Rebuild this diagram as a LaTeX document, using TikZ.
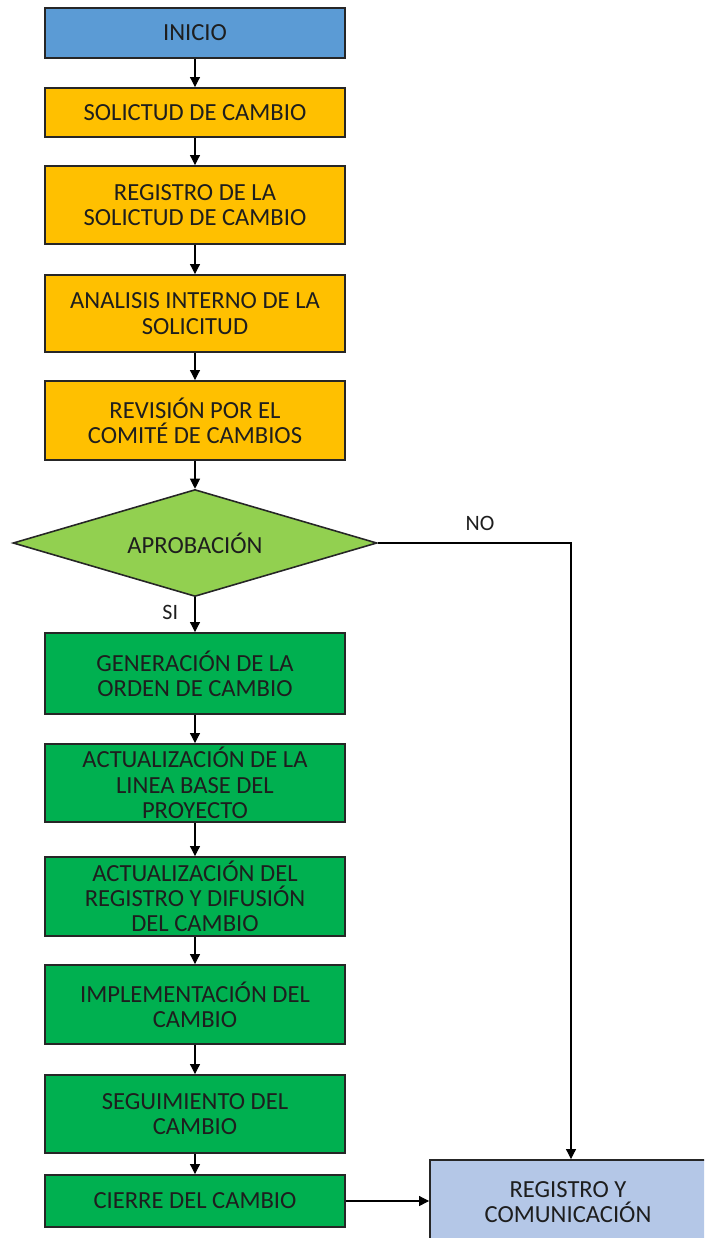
\documentclass[tikz,border=0pt]{standalone}
\usepackage{fontspec}
\setmainfont{Carlito}
\definecolor{FCblue}{HTML}{5B9BD5}
\definecolor{FCorange}{HTML}{FFC000}
\definecolor{FClime}{HTML}{92D050}
\definecolor{FCgreen}{HTML}{00B050}
\definecolor{FCpale}{HTML}{B4C7E7}
\definecolor{FCtext}{HTML}{1E1E1E}
\usetikzlibrary{arrows.meta, shapes.geometric, positioning}

\tikzset{
   box/.style={draw=black!85, line width=1.1pt, rectangle, minimum width=6cm, inner sep=0pt,
      align=center, text=FCtext, font=\fontsize{14}{14.4}\selectfont},
   flow/.style={-{Triangle[length=0.2cm, width=0.2cm]}, black, line width=0.6pt},
   lbl/.style={text=FCtext, font=\fontsize{12.5}{14}\selectfont}
}

\begin{document}
\begin{tikzpicture}[x=0.02cm, y=-0.02cm]
            \clip (0,0) rectangle (704,1238);
            % Top part
            \node[box, fill=FCblue, minimum height=1cm] (inicio) at (195,33) {INICIO};
            \node[box, fill=FCorange, minimum height=0.98cm] (solicitud) at (195,112.5) {SOLICTUD DE CAMBIO};
            \node[box, fill=FCorange, minimum height=1.56cm] (registro) at (195,205) {REGISTRO DE LA\\SOLICTUD DE CAMBIO};
            \node[box, fill=FCorange, minimum height=1.54cm] (analisis) at (195,313.5) {ANALISIS INTERNO DE LA\\SOLICITUD};
            \node[box, fill=FCorange, minimum height=1.58cm] (revision) at (195,420.5) {REVISIÓN POR EL\\COMITÉ DE CAMBIOS};
            % Decision
            \node[box, diamond, fill=FClime, aspect=3.4, minimum width=7.28cm, minimum height=2.14cm,
               line width=0.9pt] (aprobacion) at (195,543) {APROBACIÓN};
            % Green steps
            \node[box, fill=FCgreen, minimum height=1.62cm] (generacion) at (195,673.5) {GENERACIÓN DE LA\\ORDEN DE CAMBIO};
            \node[box, fill=FCgreen, minimum height=1.56cm] (lineabase) at (195,783) {ACTUALIZACIÓN DE LA\\LINEA BASE DEL\\PROYECTO};
            \node[box, fill=FCgreen, minimum height=1.58cm] (difusion) at (195,896.5) {ACTUALIZACIÓN DEL\\REGISTRO Y DIFUSIÓN\\DEL CAMBIO};
            \node[box, fill=FCgreen, minimum height=1.58cm] (implementacion) at (195,1004.5) {IMPLEMENTACIÓN DEL\\CAMBIO};
            \node[box, fill=FCgreen, minimum height=1.56cm] (seguimiento) at (195,1114) {SEGUIMIENTO DEL\\CAMBIO};
            \node[box, fill=FCgreen, minimum height=1.04cm] (cierre) at (195,1201) {CIERRE DEL CAMBIO};
            % Final box (cut by the frame)
            \node[box, fill=FCpale, minimum width=5.52cm, minimum height=1.68cm] (comunicacion) at (568,1202) {REGISTRO Y\\COMUNICACIÓN};
            % Connectors
            \draw[flow] (inicio) -- (solicitud);
            \draw[flow] (solicitud) -- (registro);
            \draw[flow] (registro) -- (analisis);
            \draw[flow] (analisis) -- (revision);
            \draw[flow] (revision) -- (aprobacion.north);
            \draw[flow] (aprobacion.south) -- node[lbl, left=6pt, pos=0.45] (si) {SI} (generacion.north);
            \draw[flow] (generacion) -- (lineabase);
            \draw[flow] (lineabase) -- (difusion);
            \draw[flow] (difusion) -- (implementacion);
            \draw[flow] (implementacion) -- (seguimiento);
            \draw[flow] (seguimiento) -- (cierre);
            \draw[flow] (cierre.east) -- (cierre.east -| comunicacion.west);
            % NO branch
            \coordinate (codo) at (571,543);
            \draw[flow] (aprobacion.east) -- (codo) -- (codo |- comunicacion.north);
            \node[lbl] (no) at (480,523) {NO};
         \end{tikzpicture}
\end{document}
